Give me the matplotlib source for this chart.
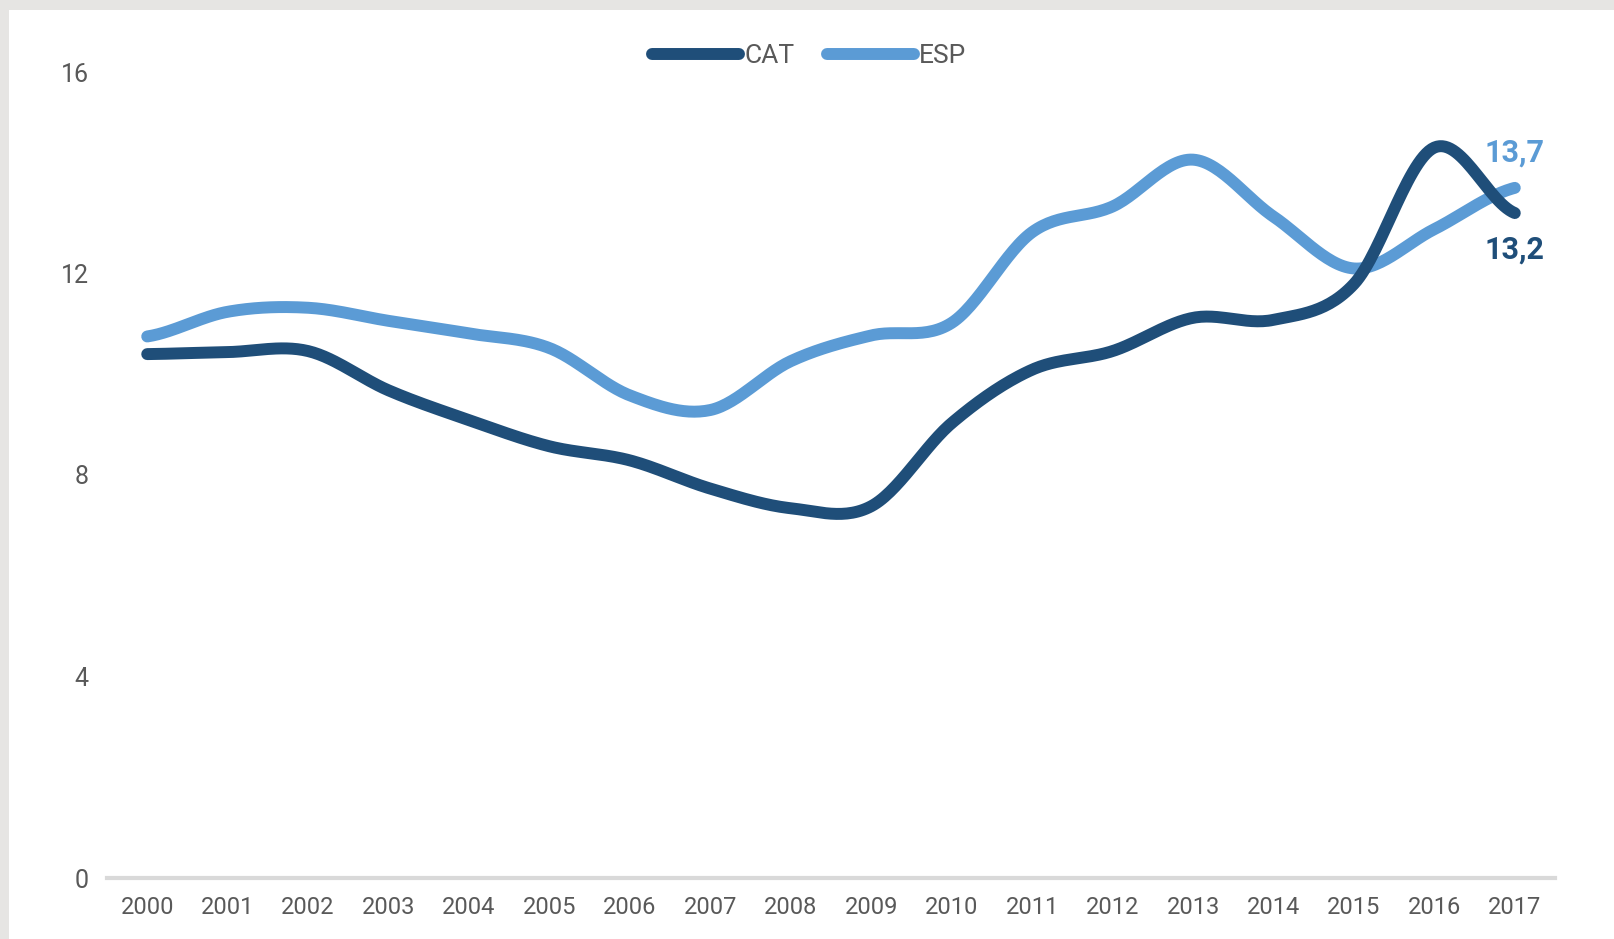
import numpy as np
import matplotlib.pyplot as plt
from matplotlib.patches import Rectangle

years = [str(y) for y in range(2000, 2018)]
cat = [10.40, 10.44, 10.46, 9.68, 9.09, 8.57, 8.29, 7.73, 7.34, 7.38,
       9.03, 10.09, 10.46, 11.12, 11.08, 11.79, 14.50, 13.20]
esp = [10.75, 11.24, 11.32, 11.06, 10.81, 10.52, 9.58, 9.29, 10.26, 10.77,
       11.02, 12.82, 13.33, 14.26, 13.13, 12.10, 12.88, 13.70]
yticks = [0, 4, 8, 12, 16]

CAT_COLOR = '#1f4e79'
ESP_COLOR = '#5b9bd5'
TXT = '#595959'


def smooth(y, n=30):
    # catmull-rom curve through the points, like excel's smoothed line
    y = np.asarray(y, dtype=float)
    p = np.concatenate([[y[0]], y, [y[-1]]])
    xs, ys = [], []
    t = np.linspace(0, 1, n, endpoint=False)
    for i in range(len(y) - 1):
        p0, p1, p2, p3 = p[i], p[i + 1], p[i + 2], p[i + 3]
        seg = 0.5 * ((2 * p1) + (-p0 + p2) * t +
                     (2 * p0 - 5 * p1 + 4 * p2 - p3) * t ** 2 +
                     (-p0 + 3 * p1 - 3 * p2 + p3) * t ** 3)
        xs.extend(i + t)
        ys.extend(seg)
    xs.append(len(y) - 1)
    ys.append(y[-1])
    return np.array(xs), np.array(ys)


plt.rcParams['font.family'] = ['Roboto', 'DejaVu Sans']

fig = plt.figure(figsize=(16.14, 9.39), dpi=100, facecolor='#e6e5e3')
fig.patches.append(Rectangle((9 / 1614, 0), 1, 1 - 10 / 939, transform=fig.transFigure,
                             facecolor='white', edgecolor='none', zorder=-10))

ax = fig.add_axes([107 / 1614, 61 / 939, 1448 / 1614, 806 / 939])
ax.set_zorder(1)
ax.set_facecolor('none')

x = np.arange(len(years))
cx, cy = smooth(cat)
ex, ey = smooth(esp)
ax.plot(ex, ey, color=ESP_COLOR, linewidth=8.6, solid_capstyle='round', label='ESP', clip_on=False, zorder=3)
ax.plot(cx, cy, color=CAT_COLOR, linewidth=8.6, solid_capstyle='round', label='CAT', clip_on=False, zorder=4)

ax.set_xlim(-0.5, 17.5)
ax.set_ylim(0, 16)
ax.set_xticks(x)
ax.set_xticklabels(years)
ax.set_yticks(yticks)
ax.tick_params(axis='x', length=0, labelsize=17, labelcolor=TXT, pad=13)
ax.tick_params(axis='y', length=0, labelsize=18, labelcolor=TXT, pad=13)
for s in ['top', 'right', 'left']:
    ax.spines[s].set_visible(False)
ax.spines['bottom'].set_color('#d9d9d9')
ax.spines['bottom'].set_linewidth(3)

ax.annotate('13,7', (x[-1], esp[-1]), xytext=(0, 35), textcoords='offset pixels',
            ha='center', va='center', fontsize=22, fontweight='bold', color=ESP_COLOR)
ax.annotate('13,2', (x[-1], cat[-1]), xytext=(0, -37), textcoords='offset pixels',
            ha='center', va='center', fontsize=22, fontweight='bold', color=CAT_COLOR)

handles, labels = ax.get_legend_handles_labels()
leg = ax.legend(handles[::-1], labels[::-1], loc='center', bbox_to_anchor=(0.485, 1.02), ncol=2,
                frameon=False, fontsize=19, handlelength=3.3, handletextpad=0.2, columnspacing=1.2)
for t in leg.get_texts():
    t.set_color(TXT)

fig.savefig('out.png', dpi=100, facecolor=fig.get_facecolor())
